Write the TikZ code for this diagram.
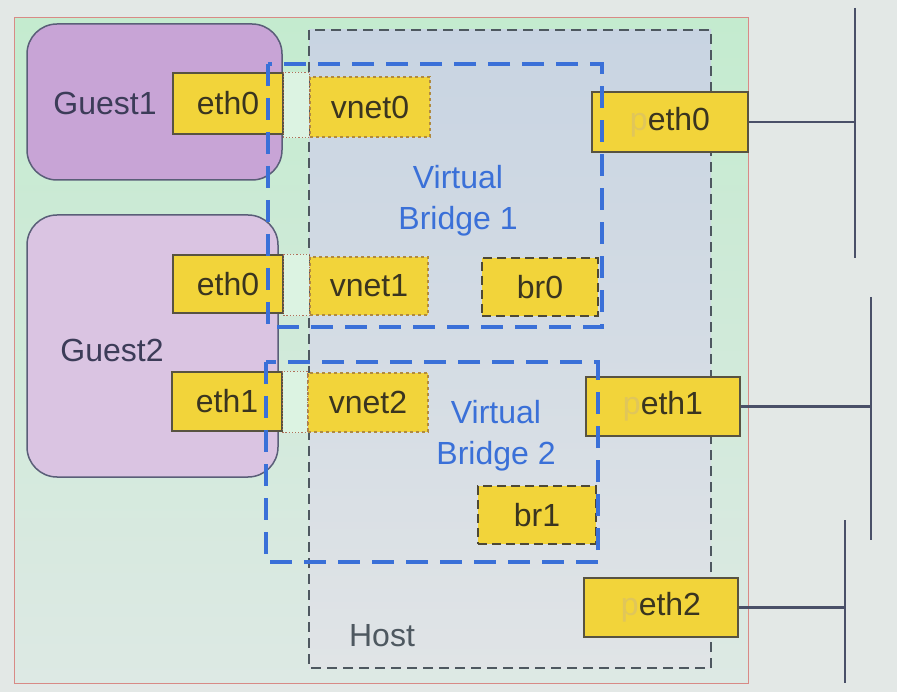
\documentclass[tikz,border=0pt]{standalone}
\usepackage{fontspec}
\setmainfont{Liberation Sans}
\definecolor{pagebg}{HTML}{E3E8E6}
\definecolor{outertop}{HTML}{C4EBCF}
\definecolor{outerbot}{HTML}{DDE9E4}
\definecolor{outerline}{HTML}{D88A86}
\definecolor{hosttop}{HTML}{C8D4E2}
\definecolor{hostbot}{HTML}{E0E4E6}
\definecolor{hostline}{HTML}{4E5860}
\definecolor{guestA}{HTML}{C8A4D6}
\definecolor{guestB}{HTML}{DAC4E2}
\definecolor{guestline}{HTML}{5A5E78}
\definecolor{guesttext}{HTML}{3C3C58}
\definecolor{ifyellow}{HTML}{F2D43A}
\definecolor{iftext}{HTML}{3A3520}
\definecolor{ghost}{HTML}{E0C65A}
\definecolor{linkred}{HTML}{B0705A}
\definecolor{vnetline}{HTML}{B08A40}
\definecolor{bridgeblue}{HTML}{3A70D8}
\definecolor{busline}{HTML}{4A5068}
\tikzset{
  lbl/.style={font=\fontsize{32}{41}\selectfont, inner sep=0pt},
  iface/.style={draw=iftext!85, line width=1.3pt, fill=ifyellow, text=iftext,
    font=\fontsize{32}{40}\selectfont, inner sep=0pt},
  vnetbox/.style={iface, draw=vnetline, dashed, line width=1.2pt},
  brbox/.style={iface, draw=iftext!90, dash pattern=on 9pt off 5pt, line width=1.6pt},
  linkbox/.style={draw=linkred, dotted, line width=1.2pt, fill=outertop!60!white},
  guestbox/.style={draw=guestline, line width=1.5pt, rounded corners=30pt},
  bridge/.style={draw=bridgeblue, line width=3.4pt, dash pattern=on 22pt off 12pt},
  bus/.style={draw=busline, line width=2.2pt},
}
\begin{document}
\begin{tikzpicture}[x=1pt,y=-1pt]
\useasboundingbox (0,0) rectangle (897,692);
\fill[pagebg] (0,0) rectangle (897,692);
% outer frame
\shade[top color=outertop, bottom color=outerbot] (14,18) rectangle (748,683);
\draw[outerline, line width=1pt] (14,18) rectangle (748,683);
% host
\shade[top color=hosttop, bottom color=hostbot] (309,30) rectangle (711,668);
\draw[hostline, line width=1.3pt, dash pattern=on 10pt off 6pt] (309,30) rectangle (711,668);
% guests
\node[guestbox, fill=guestA, minimum width=255pt, minimum height=156pt] (guest1) at (154.5,102) {};
\node[guestbox, fill=guestB, minimum width=251pt, minimum height=262pt] (guest2) at (152.5,346) {};
\node[lbl, text=guesttext] (g1lbl) at (105,103) {Guest1};
\node[lbl, text=guesttext] (g2lbl) at (112,350) {Guest2};
% bus coordinates
\coordinate (bus0top) at (855,8);
\coordinate (bus0bot) at (855,258);
\coordinate (bus1top) at (871,297);
\coordinate (bus1bot) at (871,540);
\coordinate (bus2top) at (845,520);
\coordinate (bus2bot) at (845,683);
% interfaces
\node[iface, minimum width=110pt, minimum height=61pt] (g1eth0) at (228,103.5) {eth0};
\node[vnetbox, minimum width=120pt, minimum height=60pt] (vnet0) at (370,107) {vnet0};
\node[iface, minimum width=110pt, minimum height=58pt] (g2eth0) at (228,284) {eth0};
\node[vnetbox, minimum width=118pt, minimum height=58pt] (vnet1) at (369,286) {vnet1};
\node[iface, minimum width=110pt, minimum height=59pt] (g2eth1) at (227,401.5) {eth1};
\node[vnetbox, minimum width=120pt, minimum height=59pt] (vnet2) at (368,402.5) {vnet2};
\node[brbox, minimum width=116pt, minimum height=58pt] (br0) at (540,287) {br0};
\node[brbox, minimum width=118pt, minimum height=58pt] (br1) at (537,515) {br1};
\node[iface, minimum width=156pt, minimum height=60pt] (peth0) at (670,122) {\textcolor{ghost}{p}eth0};
\node[iface, minimum width=154pt, minimum height=59pt] (peth1) at (663,406.5) {\textcolor{ghost}{p}eth1};
\node[iface, minimum width=154pt, minimum height=59pt] (peth2) at (661,607.5) {\textcolor{ghost}{p}eth2};
% links guest eth <-> vnet
\draw[linkbox] (g1eth0.north east) rectangle (vnet0.south west);
\draw[linkbox] (g2eth0.north east) rectangle (vnet1.south west);
\draw[linkbox] (g2eth1.north east) rectangle (vnet2.south west);
% physical links to buses
\draw[bus] (peth0.east) -- (peth0.east -| bus0top);
\draw[bus] (bus0top) -- (bus0bot);
\draw[bus] (peth1.east) -- (peth1.east -| bus1top);
\draw[bus] (bus1top) -- (bus1bot);
\draw[bus] (peth2.east) -- (peth2.east -| bus2top);
\draw[bus] (bus2top) -- (bus2bot);
% bridges
\draw[bridge] (268,64) rectangle (602,327);
\draw[bridge] (266,362) rectangle (598,562);
\node[lbl, text=bridgeblue, align=center] (vb1) at (458,201) {Virtual\\Bridge 1};
\node[lbl, text=bridgeblue, align=center] (vb2) at (496,436) {Virtual\\Bridge 2};
\node[lbl, text=hostline] (hostlbl) at (382,636) {Host};
\end{tikzpicture}
\end{document}
